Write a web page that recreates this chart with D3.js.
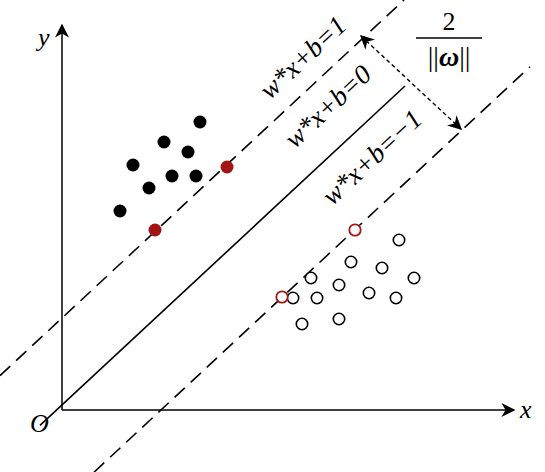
<!DOCTYPE html><html><head><meta charset="utf-8">
<script src="https://cdn.jsdelivr.net/npm/d3@7"></script>
<style>body{margin:0;background:#fff}text{font-family:"Liberation Serif",serif}</style></head><body>
<svg id="c" width="545" height="472"></svg>
<script>
const posX=[[13.8,28.8],[10.2,26.8],[12.6,25.8],[7.1,24.5],[11.0,23.4],[13.4,23.4],[8.7,22.2],[5.8,19.9]];
const posRed=[[16.5,24.3],[9.3,18.0]];
const negX=[[33.7,17.0],[28.9,14.8],[32.0,14.2],[24.9,13.2],[27.7,12.5],[35.2,13.2],[23.1,11.2],[25.5,11.2],[30.7,11.7],[33.4,11.2],[24.0,8.6],[27.7,9.1]];
const negRed=[[29.3,18.0],[22.0,11.3]];
const slope=0.93;
const lines=[{c:9.2,x0:-6.2,x1:34.2,dash:true,label:"w*x+b=1",lx:24.7,ly:34.6},
             {c:0.5,x0:-2.2,x1:34.3,dash:false,label:"w*x+b=0",lx:27.2,ly:29.7},
             {c:-9.2,x0:3.2,x1:46.8,dash:true,label:"w*x+b=−1",lx:31.6,ly:24.6}];
const svg=d3.select("#c");
const x=d3.scaleLinear().domain([0,45]).range([62,512]);
const y=d3.scaleLinear().domain([0,41]).range([410,0]);
const defs=svg.append("defs");
defs.append("marker").attr("id","ar").attr("viewBox","0 0 10 10").attr("refX",9).attr("refY",5)
 .attr("markerWidth",14).attr("markerHeight",14).attr("markerUnits","userSpaceOnUse").attr("orient","auto-start-reverse")
 .append("path").attr("d","M0,0L10,5L0,10L3,5Z").attr("fill","#000");
svg.append("line").attr("x1",x(0)).attr("y1",y(0)).attr("x2",x(0)).attr("y2",y(38.5)).attr("stroke","#000").attr("stroke-width",1.5).attr("marker-end","url(#ar)");
svg.append("line").attr("x1",x(0)).attr("y1",y(0)).attr("x2",x(45.2)).attr("y2",y(0)).attr("stroke","#000").attr("stroke-width",1.5).attr("marker-end","url(#ar)");
svg.append("text").attr("x",38).attr("y",46).attr("font-size",26).attr("font-style","italic").text("y");
svg.append("text").attr("x",520).attr("y",418).attr("font-size",26).attr("font-style","italic").text("x");
svg.append("text").attr("x",30).attr("y",432).attr("font-size",26).attr("font-style","italic").text("O");
lines.forEach(l=>{
 svg.append("line").attr("x1",x(l.x0)).attr("y1",y(slope*l.x0+l.c)).attr("x2",x(l.x1)).attr("y2",y(slope*l.x1+l.c))
  .attr("stroke","#000").attr("stroke-width",1.6).attr("stroke-dasharray",l.dash?"14,8":null);
 svg.append("text").attr("transform",`translate(${x(l.lx)},${y(l.ly)}) rotate(${-Math.atan2(y(0)-y(slope),x(1)-x(0))*180/Math.PI})`)
  .attr("text-anchor","middle").attr("font-size",27).attr("font-style","italic").text(l.label);
});
const R=6.5;
svg.selectAll(".p").data(posX).join("circle").attr("cx",d=>x(d[0])).attr("cy",d=>y(d[1])).attr("r",R).attr("fill","#000");
svg.selectAll(".pr").data(posRed).join("circle").attr("cx",d=>x(d[0])).attr("cy",d=>y(d[1])).attr("r",R).attr("fill","#a31515");
svg.selectAll(".n").data(negX).join("circle").attr("cx",d=>x(d[0])).attr("cy",d=>y(d[1])).attr("r",R-0.8).attr("fill","#fff").attr("stroke","#000").attr("stroke-width",1.6);
svg.selectAll(".nr").data(negRed).join("circle").attr("cx",d=>x(d[0])).attr("cy",d=>y(d[1])).attr("r",R-0.8).attr("fill","#fff").attr("stroke","#a31515").attr("stroke-width",1.8);
svg.append("line").attr("x1",361).attr("y1",36).attr("x2",461).attr("y2",129).attr("stroke","#000").attr("stroke-width",1.4)
 .attr("stroke-dasharray","4,3").attr("marker-start","url(#ar)").attr("marker-end","url(#ar)");
svg.append("text").attr("x",449).attr("y",30).attr("text-anchor","middle").attr("font-size",26).text("2");
svg.append("line").attr("x1",416).attr("x2",482).attr("y1",38).attr("y2",38).attr("stroke","#000").attr("stroke-width",1.3);
const t=svg.append("text").attr("x",449).attr("y",66).attr("text-anchor","middle").attr("font-size",28);
t.append("tspan").text("||");t.append("tspan").attr("font-style","italic").attr("font-weight","bold").text("ω");t.append("tspan").text("||");
</script></body></html>
